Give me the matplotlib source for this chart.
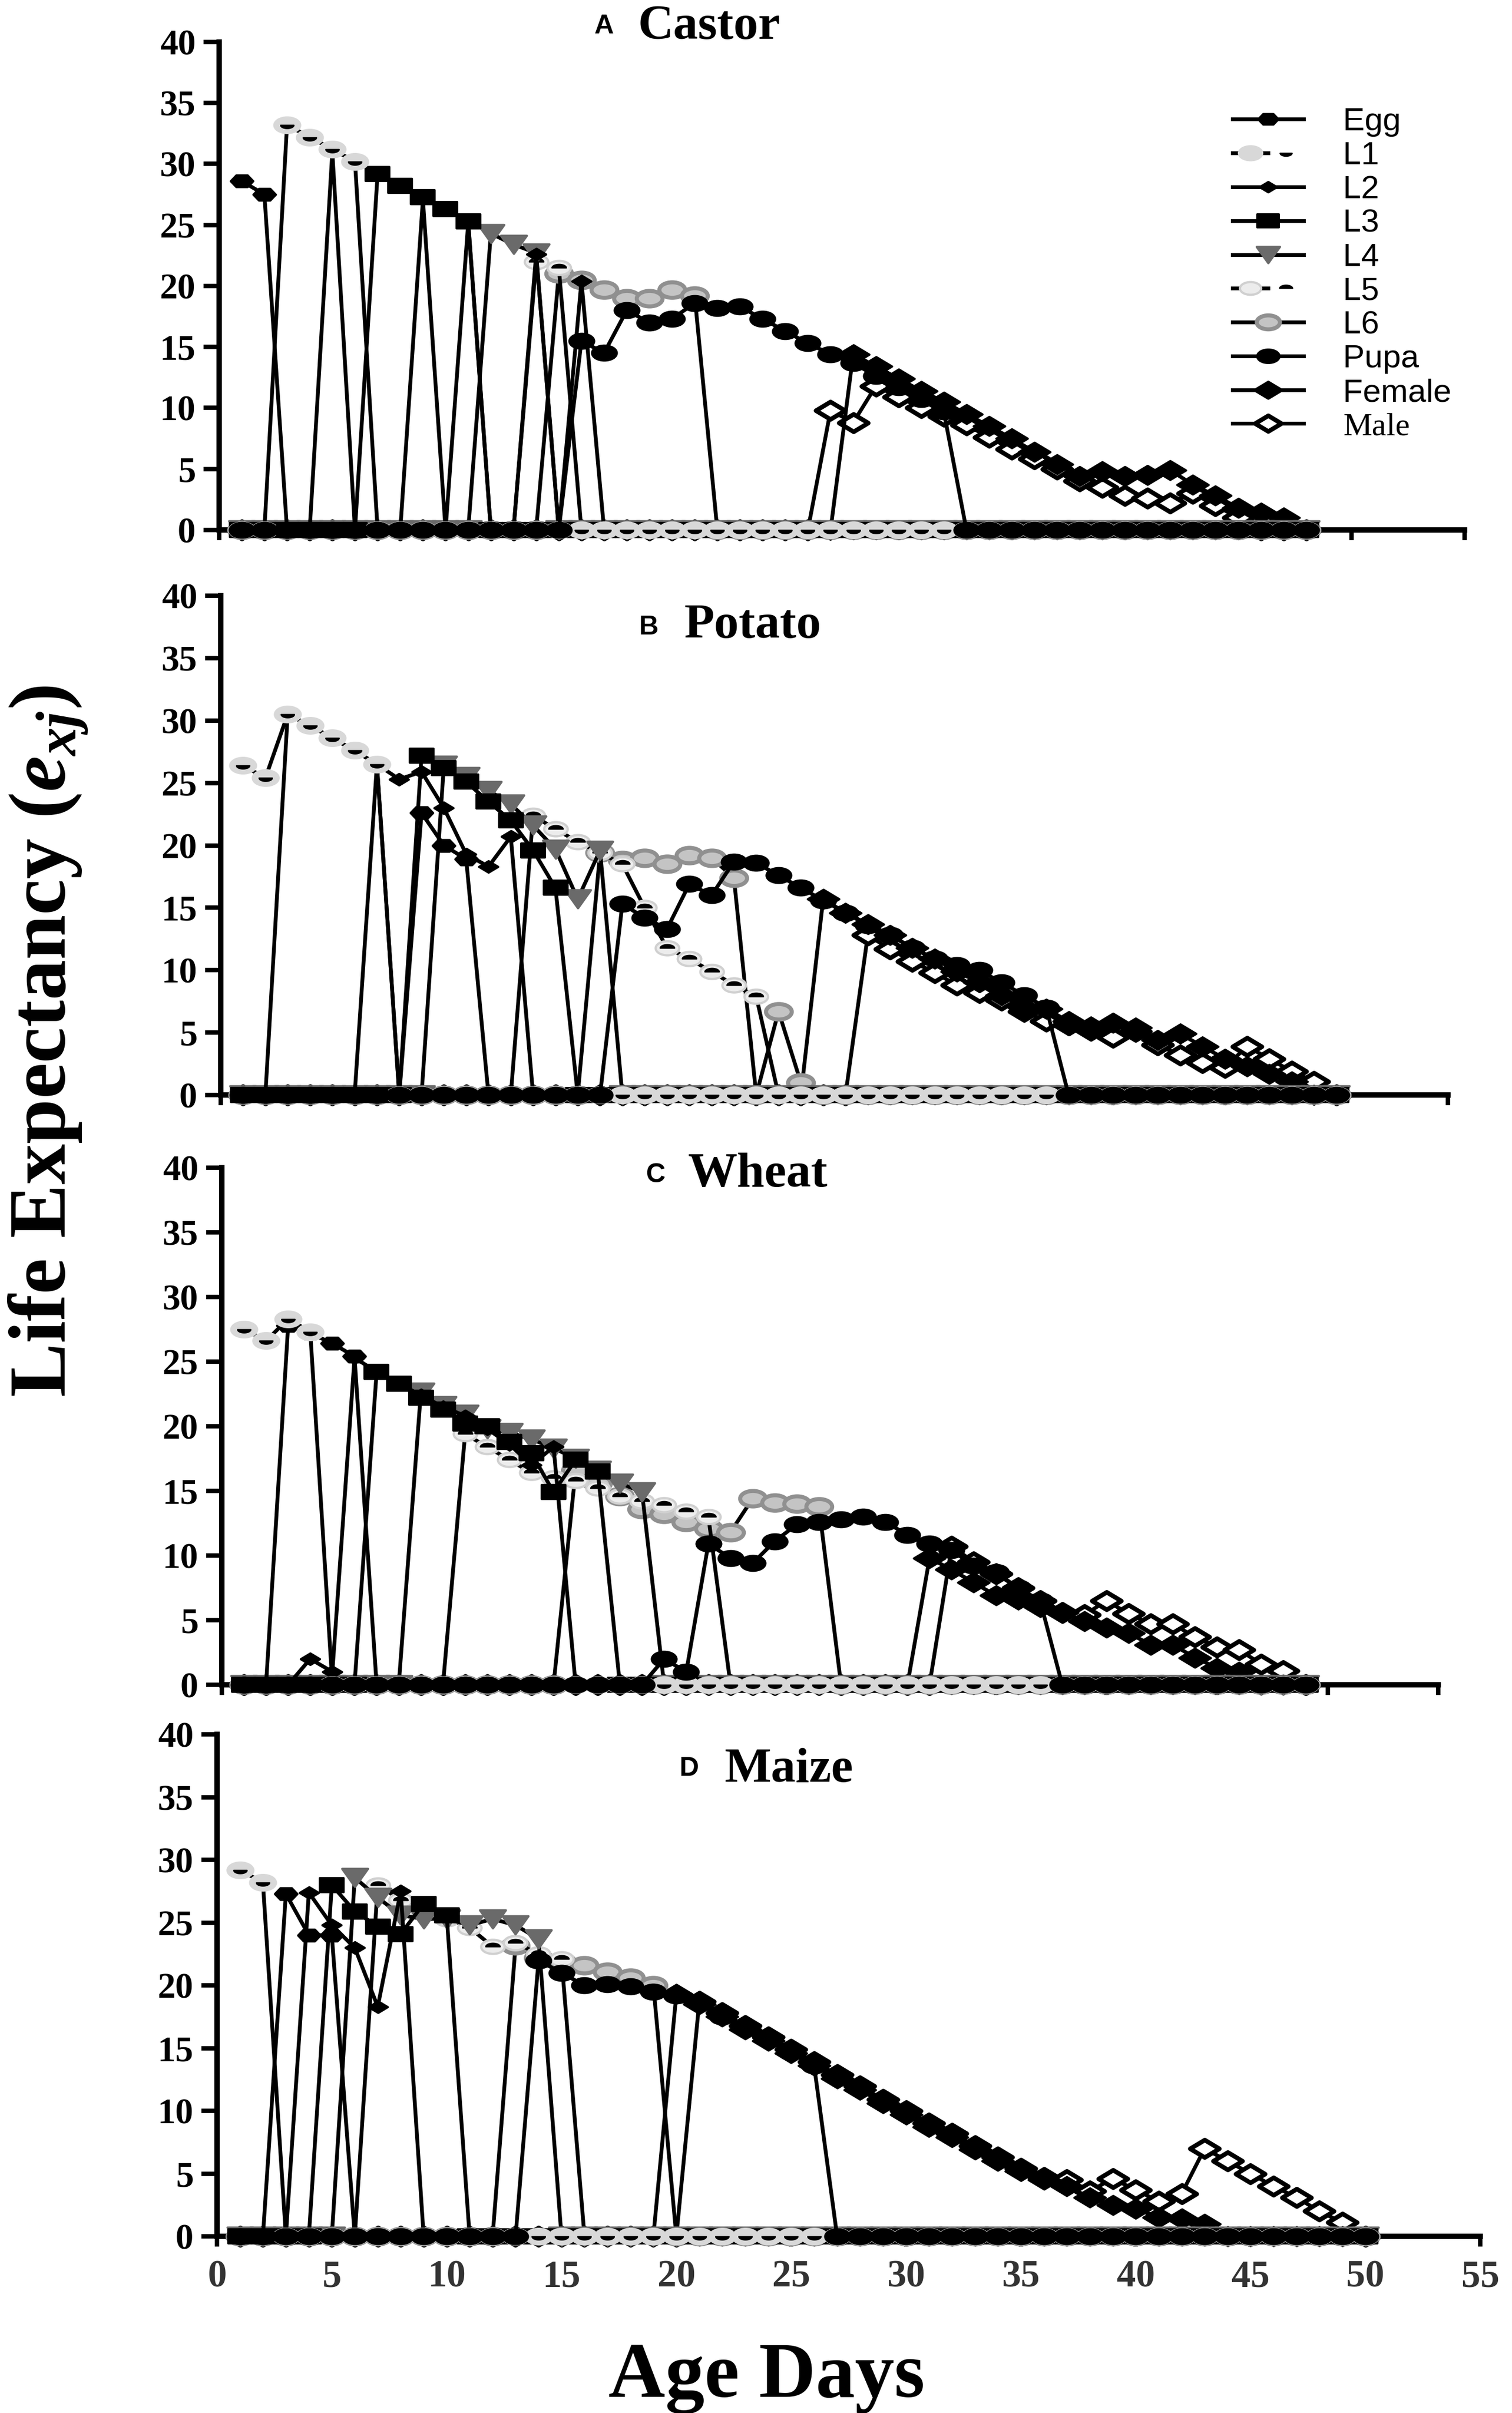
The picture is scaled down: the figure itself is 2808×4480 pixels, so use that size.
import numpy as np
import matplotlib
matplotlib.use('Agg')
import matplotlib.pyplot as plt
from matplotlib.path import Path
from matplotlib.markers import MarkerStyle
from matplotlib.legend_handler import HandlerTuple

plt.rcParams['font.family'] = ['Liberation Serif', 'DejaVu Serif']
plt.rcParams['font.weight'] = 'bold'
plt.rcParams['mathtext.fontset'] = 'custom'
plt.rcParams['mathtext.it'] = 'Liberation Serif:italic:bold'
plt.rcParams['mathtext.rm'] = 'Liberation Serif:bold'
plt.rcParams['mathtext.bf'] = 'Liberation Serif:bold'

stages = ['Egg', 'L1', 'L2', 'L3', 'L4', 'L5', 'L6', 'Pupa', 'Female', 'Male']

# each series: (first day, values from that day on); every other day is 0
castor_last_day = 48
castor_egg = (1, [28.6, 27.5])
castor_l1 = (3, [33.2, 32.2, 31.2, 30.2])
castor_l2 = (5, [31.0, 0, 0, 0, 27.1, 0, 25.2, 0, 0, 22.6, 0, 20.4])
castor_l3 = (7, [29.2, 28.2, 27.3, 26.3, 25.3])
castor_l4 = (12, [24.3, 23.4, 22.7])
castor_l5 = (14, [22.0, 21.5])
castor_l6 = (15, [21.0, 20.5, 19.7, 19.0, 19.0, 19.7, 19.2])
castor_pupa = (16, [15.5, 14.5, 18.0, 17.0, 17.3, 18.6, 18.2, 18.3, 17.3, 16.3,
                    15.3, 14.4, 13.7, 12.6, 11.7, 10.7, 9.7])
castor_female = (28, [14.4, 13.4, 12.4, 11.4, 10.5, 9.5, 8.5, 7.5, 6.4, 5.4,
                      4.4, 4.8, 4.4, 4.5, 4.9, 3.7, 2.8, 1.8, 1.4, 1.0])
castor_male = (27, [9.8, 8.8, 11.8, 10.9, 10.0, 9.3, 8.6, 7.6, 6.6, 5.8,
                    5.0, 4.0, 3.5, 2.8, 2.6, 2.2, 3.0, 2.0, 1.0])

potato_last_day = 50
potato_egg = (3, [30.5, 29.6, 28.6, 27.6, 26.5, 0, 22.6, 20.0, 18.9])
potato_l1 = (1, [26.4, 25.4, 30.5, 29.6, 28.6, 27.6, 26.5])
potato_l2 = (7, [26.5, 25.3, 25.9, 23.0, 19.3, 18.3, 20.7])
potato_l3 = (9, [27.2, 26.2, 25.1, 23.5, 22.0, 19.6, 16.6])
potato_l4 = (10, [26.4, 25.5, 24.4, 23.3, 21.6, 19.7, 15.7, 19.6])
potato_l5 = (14, [22.4, 21.3, 20.3, 19.4, 18.5, 15.0, 11.8, 10.9, 9.9, 8.8, 7.9])
potato_l6 = (17, [19.4, 18.8, 19.0, 18.5, 19.2, 19.0, 17.4, 0, 6.7, 1.0])
potato_pupa = (18, [15.3, 14.2, 13.3, 16.9, 16.0, 18.7, 18.6, 17.6, 16.6, 15.6,
                    14.6, 13.6, 12.8, 11.8, 10.9, 10.4, 10.0, 9.0, 8.0, 7.0])
potato_female = (27, [15.7, 14.6, 13.7, 12.8, 11.8, 10.9, 9.9, 9.0, 8.0, 7.0, 6.9,
                      5.9, 5.5, 5.8, 5.4, 4.4, 4.9, 3.9, 2.9, 2.3, 1.7, 1.1])
potato_male = (29, [12.8, 11.7, 10.7, 9.8, 8.8, 8.2, 7.6, 6.7, 5.9, 5.6, 5.2,
                    4.6, 5.1, 4.0, 3.2, 2.6, 2.2, 3.9, 2.9, 1.9, 1.1])

wheat_last_day = 49
wheat_egg = (3, [27.8, 27.2, 26.4, 25.4])
wheat_l1 = (1, [27.5, 26.6, 28.3, 27.3])
wheat_l2 = (4, [2.0, 1.0, 25.3, 24.2, 23.3, 22.4, 21.5, 20.8, 19.8, 18.6, 17.0, 18.4])
wheat_l3 = (7, [24.2, 23.3, 22.2, 21.3, 20.2, 20.0, 18.8, 17.9, 14.9, 17.4, 16.5])
wheat_l4 = (9, [22.6, 21.6, 20.9, 19.8, 19.5, 19.0, 18.3, 17.5, 16.6, 15.6, 14.9])
wheat_l5 = (11, [19.4, 18.4, 17.4, 16.4, 16.0, 15.8, 15.2, 14.6, 14.2, 13.9, 13.4, 13.0])
wheat_l6 = (16, [16.6, 15.6, 14.6, 13.6, 13.2, 12.6, 12.1, 11.8, 14.4, 14.1, 14.0, 13.8])
wheat_pupa = (20, [2.0, 1.0, 10.9, 9.8, 9.4, 11.1, 12.4, 12.6, 12.8, 13.0,
                   12.6, 11.6, 10.9, 10.4, 9.2, 8.7, 7.5, 6.5])
wheat_female = (32, [9.8, 8.9, 7.9, 6.9, 6.6, 6.0, 5.6, 4.9, 4.4, 4.0,
                     3.1, 3.1, 2.1, 1.3, 1.0])
wheat_male = (33, [10.7, 9.5, 8.6, 7.5, 6.5, 5.6, 5.4, 6.5, 5.5, 4.7,
                   4.7, 3.7, 2.9, 2.7, 1.6, 1.1])

maize_last_day = 50
maize_egg = (3, [27.3, 24.0, 24.0])
maize_l1 = (1, [29.2, 28.2])
maize_l2 = (4, [27.4, 24.8, 23.0, 18.3, 27.5])
maize_l3 = (5, [28.0, 25.9, 24.7, 24.1, 26.5, 25.6])
maize_l4 = (6, [28.6, 27.0, 25.6, 25.3, 25.3, 24.8, 25.3, 24.8, 23.7])
maize_l5 = (7, [28.0, 26.8, 25.8, 25.3, 24.6, 23.1, 23.4, 22.5, 22.1])
maize_l6 = (13, [23.2, 22.2, 21.9, 21.6, 21.1, 20.6, 20.0])
maize_pupa = (14, [22.0, 21.0, 20.0, 20.1, 19.9, 19.5, 19.2, 18.6, 17.5, 16.6,
                   15.7, 14.7, 13.6])
maize_female = (20, [19.3, 18.5, 17.5, 16.5, 15.6, 14.6, 13.6, 12.6, 11.7, 10.6,
                     9.7, 8.7, 7.9, 6.9, 6.0, 5.2, 4.5, 4.0, 3.1, 2.5,
                     2.2, 1.5, 1.4, 1.0])
maize_male = (21, [18.7, 17.8, 16.8, 15.9, 14.9, 13.9, 12.9, 12.0, 10.9, 10.0,
                   9.0, 8.2, 7.2, 6.3, 5.4, 4.7, 4.5, 3.6, 4.6, 3.7,
                   2.8, 3.4, 7.0, 6.0, 5.0, 4.0, 3.1, 2.0, 1.1])

castor = [castor_egg, castor_l1, castor_l2, castor_l3, castor_l4, castor_l5,
          castor_l6, castor_pupa, castor_female, castor_male]
potato = [potato_egg, potato_l1, potato_l2, potato_l3, potato_l4, potato_l5,
          potato_l6, potato_pupa, potato_female, potato_male]
wheat = [wheat_egg, wheat_l1, wheat_l2, wheat_l3, wheat_l4, wheat_l5,
         wheat_l6, wheat_pupa, wheat_female, wheat_male]
maize = [maize_egg, maize_l1, maize_l2, maize_l3, maize_l4, maize_l5,
         maize_l6, maize_pupa, maize_female, maize_male]


def full(series, last_day):
    start, vals = series
    y = np.zeros(last_day)
    y[start - 1:start - 1 + len(vals)] = vals
    return y


# the original figure is stretched sideways, so are its markers
def squash(code, sy=0.6):
    m = MarkerStyle(code)
    p = m.get_path().transformed(m.get_transform())
    return Path(p.vertices * [1.0, sy], p.codes)


def half_disc(top=True):
    t = np.linspace(0, np.pi, 17) if top else np.linspace(np.pi, 2 * np.pi, 17)
    v = np.column_stack([np.cos(t), 0.5 * np.sin(t)])
    return Path(np.vstack([v, v[:1]]), closed=True)


ELL = squash('o')
styles = {
    'Egg':    dict(marker=squash('H'), ms=10, mfc='black', mec='black'),
    'L1':     dict(marker=ELL, ms=11.5, mfc='#d8d8d8', mec='#d8d8d8'),
    'L2':     dict(marker=squash('D'), ms=8.5, mfc='black', mec='black'),
    'L3':     dict(marker=squash('s'), ms=10.5, mfc='black', mec='black'),
    'L4':     dict(marker=squash('v', 0.7), ms=11.5, mfc='#6a6a6a', mec='#6a6a6a'),
    'L5':     dict(marker=ELL, ms=10.5, mfc='#ececec', mec='#d0d0d0'),
    'L6':     dict(marker=ELL, ms=11.5, mfc='#c4c4c4', mec='#909090', mew=1.8),
    'Pupa':   dict(marker=ELL, ms=11, mfc='black', mec='black'),
    'Female': dict(marker=squash('D'), ms=14, mfc='black', mec='black'),
    'Male':   dict(marker=squash('D'), ms=13, mfc='white', mec='black', mew=2.0),
}
overlays = {'L1': (half_disc(False), 6), 'L5': (half_disc(True), 6.5)}
draw_order = ['Male', 'Female', 'L6', 'L5', 'L4', 'L2', 'Egg', 'L3', 'L1', 'Pupa']

panels = [
    ('A', 'Castor', castor_last_day, castor, [0.1449, 0.7804, 0.8238, 0.2022], (0.393, 0.9862), (0.4217, 0.9839)),
    ('B', 'Potato', potato_last_day, potato, [0.1460, 0.5462, 0.8116, 0.2069], (0.4227, 0.7371), (0.4523, 0.7357)),
    ('C', 'Wheat', wheat_last_day, wheat, [0.1467, 0.3018, 0.8045, 0.2143], (0.4274, 0.5100), (0.4551, 0.5083)),
    ('D', 'Maize', maize_last_day, maize, [0.1435, 0.0732, 0.8355, 0.2080], (0.4494, 0.2641), (0.4793, 0.2616)),
]

fig = plt.figure(figsize=(2808 / 300, 4480 / 300), dpi=300)

for k, (letter, name, last_day, data, rect, lxy, nxy) in enumerate(panels):
    ax = fig.add_axes(rect)
    days = np.arange(1, last_day + 1)
    handles = {}
    for z, stage in enumerate(draw_order):
        y = full(data[stages.index(stage)], last_day)
        st = dict(styles[stage])
        mew = st.pop('mew', 1.0)
        line, = ax.plot(days, y, color='black', lw=1.7, mew=mew,
                        clip_on=False, zorder=3 + z, label=stage, **st)
        handles[stage] = line
        if stage in overlays:
            mk, size = overlays[stage]
            dot, = ax.plot(days, y, linestyle='none', marker=mk, ms=size,
                           mfc='black', mec='black', mew=0.5,
                           clip_on=False, zorder=3.5 + z)
            handles[stage] = (line, dot)

    ax.set_xlim(0, 55)
    ax.set_ylim(0, 40)
    ax.set_xticks(range(0, 56, 5))
    ax.set_yticks(range(0, 41, 5))
    for s in ['top', 'right']:
        ax.spines[s].set_visible(False)
    for s in ['left', 'bottom']:
        ax.spines[s].set_linewidth(2.4)
    ax.tick_params(axis='y', length=7, width=2, pad=3.5, labelsize=16)
    ax.tick_params(axis='x', length=4.5, width=2, pad=6, labelsize=17,
                   labelcolor='#333333')
    if letter != 'D':
        ax.tick_params(axis='x', labelbottom=False)

    fig.text(lxy[0], lxy[1], letter, family='Liberation Sans', weight='bold',
             fontsize=12, va='baseline')
    fig.text(nxy[0], nxy[1], name, weight='bold', fontsize=22, va='baseline')

    if letter == 'A':
        leg = ax.legend([handles[s] for s in stages], stages,
                        handler_map={tuple: HandlerTuple(ndivide=None, pad=0)},
                        loc='upper left', bbox_to_anchor=(0.815, 0.9555),
                        bbox_transform=fig.transFigure, frameon=False,
                        numpoints=1, borderpad=0, borderaxespad=0,
                        handlelength=2.2, handletextpad=1.2, labelspacing=0.13,
                        markerscale=0.9,
                        prop={'family': 'Liberation Sans', 'weight': 'normal', 'size': 14.5})
        leg.get_texts()[-1].set_family('Liberation Serif')

fig.text(0.032, 0.5685, 'Life Expectancy ($e_{xj}$)', rotation=90,
         ha='center', va='center', fontsize=36, weight='bold')
fig.text(0.507, 0.0067, 'Age Days', ha='center', va='baseline',
         fontsize=35, weight='bold')

fig.savefig('out.png', dpi=300)
